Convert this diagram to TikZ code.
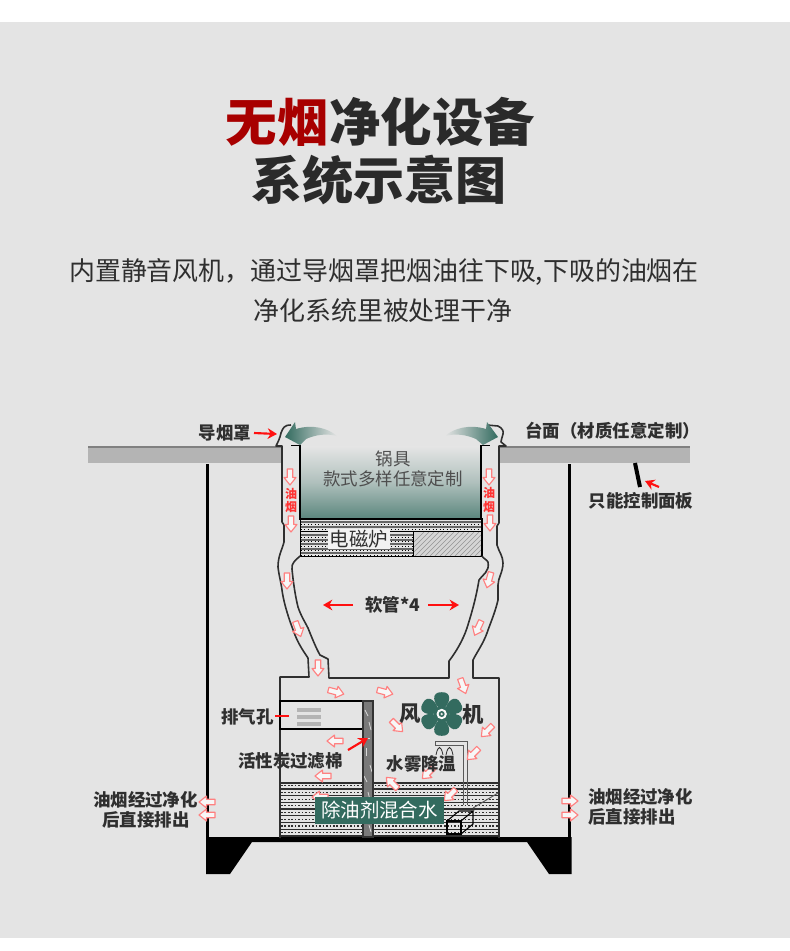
\documentclass[tikz,border=0pt]{standalone}
\usepackage{fontspec}
\setmainfont{Noto Sans CJK SC}
\usetikzlibrary{arrows.meta}
\definecolor{bgray}{HTML}{E4E4E4}
\definecolor{ink}{HTML}{2F2F2F}
\definecolor{teal}{HTML}{336B5F}
\definecolor{pinkline}{HTML}{FF8080}
\definecolor{redd}{HTML}{FF1010}
\definecolor{titlered}{HTML}{A80000}
\definecolor{slab}{HTML}{B4B4B4}
\tikzset{
 x=0.75pt,y=-0.75pt,
 txt/.style={inner sep=0pt,text=ink,align=center},
 lab/.style={txt,font=\bfseries\fontsize{13.1}{13.1}\selectfont},
 wall/.style={draw=ink,line width=1.2pt,line join=round},
 redarrow/.style={draw=redd,line width=1.6pt,-{Stealth[length=7pt,width=8pt]}},
 pics/flowarrow/.style={code={
   \draw[draw=pinkline,fill=white!70!bgray,line width=0.85pt,line join=round]
     (-8,-2.8)--(0.5,-2.8)--(0.5,-6)--(8,0)--(0.5,6)--(0.5,2.8)--(-8,2.8)--cycle;}},
 petal/.style={fill=teal,draw=none},
}
\begin{document}
\begin{tikzpicture}
\useasboundingbox (0,0) rectangle (790,951);
\fill[white] (0,0) rectangle (790,951);
\fill[bgray] (0,22) rectangle (790,938);

% titles
\node[txt,anchor=west,font=\bfseries\fontsize{38.6}{38.6}\selectfont,text=titlered] (t1a) at (225.5,122) {无烟};
\node[txt,anchor=west,font=\bfseries\fontsize{38.6}{38.6}\selectfont,text=ink!90!black] (t1b) at (t1a.east) {净化设备};
\node[txt,font=\bfseries\fontsize{38.3}{38.3}\selectfont,text=ink!90!black] (t2) at (379,180) {系统示意图};
\node[txt,font=\fontsize{19.45}{19.45}\selectfont,text=ink] (s1) at (384,272) {内置静音风机，通过导烟罩把烟油往下吸,下吸的油烟在};
\node[txt,font=\fontsize{19.45}{19.45}\selectfont,text=ink] (s2) at (383,311) {净化系统里被处理干净};

% counter
\fill[slab] (88,447) rectangle (282,463);
\fill[slab] (499,447) rectangle (690,463);
\draw[gray,line width=0.8pt] (88,447)--(282,447) (499,447)--(690,447);

% legs
\draw[black,line width=2.2pt] (207.5,464)--(207.5,838);
\draw[black,line width=2.2pt] (569.5,464)--(569.5,838);

% base
\fill[black] (206,837)--(571.5,837)--(571.5,874)--(549,874)--(527,842)--(252,842)--(230,874)--(206,874)--cycle;

% pot
\shade[top color=bgray!95!white,bottom color=teal!78!bgray,middle color=teal!30!bgray] (300,446) rectangle (481,519);
\draw[black,line width=1.2pt] (300,445)--(300,519)--(481,519)--(481,445);
\draw[black,line width=1.4pt] (291,445.5)--(300,445.5) (481,445.5)--(490,445.5);

% stove
\begin{scope}
\clip (301,520) rectangle (481,531);
\foreach \yy in {522,527}{
 \draw[gray!80!black,line width=1.5pt] (301,\yy)--(481,\yy);
 \draw[black,line width=0.6pt,dotted] (301,\yy+2.6)--(481,\yy+2.6);}
\end{scope}
\begin{scope}
\clip (301,533) rectangle (413,555);
\foreach \yy in {535,539.5,544,548.5,553}{
 \draw[gray!80!black,line width=1.5pt] (301,\yy)--(413,\yy);
 \draw[black,line width=0.6pt,dotted] (301,\yy+2.2)--(413,\yy+2.2);}
\end{scope}
\fill[bgray!85!gray] (414,532) rectangle (482,556);
\begin{scope}
\clip (414,532) rectangle (482,556);
\foreach \xx in {400,405,...,490}{\draw[gray!80!bgray,line width=0.5pt] (\xx,556)--(\xx+24,532);}
\end{scope}
\draw[black,line width=1pt] (300.5,519) rectangle (482,556.5);
\draw[black,line width=1pt] (300.5,531.5)--(482,531.5) (413.5,531.5)--(413.5,556.5);
\node[txt,fill=bgray!50!white,minimum width=47pt,minimum height=15pt,font=\fontsize{14.6}{14.6}\selectfont,text=ink] (stove) at (359,539) {电磁炉};
\node[txt,font=\fontsize{13.1}{13.1}\selectfont,text=ink!85!white] (pot1) at (393,459) {锅具};
\node[txt,font=\fontsize{13.1}{13.1}\selectfont,text=ink!85!white] (pot2) at (393,479) {款式多样任意定制};

% ducts
\draw[wall] (291,425) .. controls (284,425) and (283,428) .. (281,433) .. controls (280,438) and (278,442) .. (276,446) -- (282,446) -- (282,522) -- (284,525) -- (284,542)
 .. controls (282,550) and (278,556) .. (278,567) .. controls (279,576) and (281,582) .. (282,590)
 .. controls (284,605) and (290,622) .. (295,635) .. controls (299,645) and (304,652) .. (308,658) -- (309,677) -- (280,677) -- (280,838);
\draw[wall] (300,556) .. controls (296,560) and (291,563) .. (292,569) .. controls (293,580) and (295,595) .. (298,607)
 .. controls (301,616) and (305,622) .. (308,628) .. controls (312,638) and (316,648) .. (320,655) -- (328,659) -- (329,678) -- (449,678) -- (449,661)
 .. controls (456,652) and (463,640) .. (467,628) .. controls (472,612) and (476,598) .. (479,580) .. controls (482,575) and (490,572) .. (488,562) .. controls (487,560) and (483,558) .. (482,556);
\draw[wall] (487,425) -- (498,426) .. controls (502,428) and (504,431) .. (503,434) .. controls (502,438) and (501,440) .. (501,442) -- (506,446) -- (499,446) -- (499,523) -- (497,526) -- (497,545)
 .. controls (499,552) and (503,556) .. (503,563) .. controls (503,572) and (498,578) .. (498,585) -- (498,600)
 .. controls (495,613) and (490,624) .. (487,633) .. controls (483,644) and (477,652) .. (473,660) -- (473,678) -- (499,678) -- (499,838);

% water
\begin{scope}
\clip (281,783) rectangle (498,837);
\foreach \yy in {789,795.7,802.4,809.1,815.8,822.5,829.2,835.9}{
 \draw[ink,line width=1pt] (281,\yy)--(498,\yy);
 \draw[ink,line width=0.9pt,dash pattern=on 1.2pt off 1.4pt] (281,\yy-3.3)--(498,\yy-3.3);}
\end{scope}
\draw[ink,line width=1.1pt] (281,783)--(498,783);

% exhaust chamber
\draw[black,line width=1pt] (280,701) rectangle (363,729);
\fill[slab] (297,708) rectangle (321,712);
\fill[slab] (297,715) rectangle (321,719);
\fill[slab] (297,722) rectangle (321,726);

% filter
\fill[gray!95!black] (363,701) rectangle (373,837);
\foreach \xa/\ya/\xb/\yb in {365/710/368/716,369/722/371/730,364/738/370/738,366/748/366/756,370/765/372/772,364/776/367/782,368/792/370/800,365/812/368/818,369/825/371/832}{
 \draw[gray!30!white,line width=0.6pt] (\xa,\ya)--(\xb,\yb);}
\draw[black!80,line width=1pt] (363,701) rectangle (373,837);

% sprinkler and pump
\draw[gray!70!black,line width=0.7pt] (435,745)--(435,741)--(467,741)--(467,805) (463,745)--(463,805) (435,745)--(463,745);
\draw[ink,line width=0.6pt] (436,755)..controls (438,745) and (441,745) .. (443,755);
\draw[ink,line width=0.6pt] (446,755)..controls (448,745) and (451,745) .. (453,755);
\draw[gray!70!black,line width=0.7pt] (473,808)--(498,793);
\draw[black,line width=0.8pt] (447,821) rectangle (461,834);
\draw[black,line width=0.8pt] (447,821)--(459,811)--(473,811)--(461,821) (473,811)--(473,824)--(461,834);

% fan
\foreach \a in {90,30,-30,-90,-150,150}{
 \fill[petal,rotate around={\a:(441.7,714)}] (445,714) .. controls (452,705) and (464,703) .. (463.5,714) .. controls (464,725) and (452,723) .. (445,714) -- cycle;
}
\fill[teal] (441.7,714) circle (8);
\fill[white!80!bgray] (441.7,714) circle (5.2);
\fill[teal] (441.7,714) circle (3);
\fill[bgray] (441.7,714) circle (1.3);

% small flow arrows
\foreach \xx/\yy/\aa in {
 290/477/-90, 291/524/-90, 287/581/-90, 298/629/-70,
 489/477/-90, 490/523/-90, 489/580/-105, 478/628/-115,
 318/668/-90, 336/692/-15, 385/692/-15, 463/686/-70,
 487/731/-135, 473/754/-135, 428/773/-135, 450/795/-135,
 397/726/-45, 392/783/135, 335/741/180, 323/776/180, 320/797/180,
 207/802/180, 207/815/180, 570/801/0, 570/815/0}{
 \pic[rotate=\aa] at (\xx,\yy) {flowarrow};
}

% mixed water label
\node[txt,fill=teal,text=white,minimum width=96.8pt,minimum height=20.2pt,font=\fontsize{14.6}{14.6}\selectfont] (mix) at (379.5,810.5) {除油剂混合水};

% green curved arrows
\shade[left color=teal,middle color=teal,right color=bgray]
 (285,437)--(295,422)--(296,429) .. controls (312,424) and (328,428) .. (337,436) .. controls (326,433) and (315,435) .. (306,439)--(300,445)--cycle;
\shade[right color=teal,middle color=teal,left color=bgray]
 (498,437)--(487,422)--(486,429) .. controls (470,424) and (454,428) .. (445,436) .. controls (456,433) and (467,435) .. (476,439)--(483,445)--cycle;

% labels
\node[lab] (hood) at (225,433) {导烟罩};
\coordinate (hoodtip) at (277,434);
\draw[redarrow] (hood.east -| 254,434) -- (hoodtip);
\node[lab,anchor=west] (top) at (525,431) {台面（材质任意定制）};
\node[lab] (panel) at (641,501) {只能控制面板};
\coordinate (pa) at (635,463);
\coordinate (pb) at (640,487);
\draw[black,line width=3pt] (pa)--(pb);
\coordinate (pc) at (659,487);
\coordinate (pd) at (645,481);
\draw[redarrow] (pc)--(pd);
\node[lab] (hose) at (392.5,605) {软管*4};
\coordinate (hl) at (323,605);
\coordinate (hr) at (459,605);
\draw[redarrow] (353,605)--(hl);
\draw[redarrow] (428,605)--(hr);
\node[lab] (vent) at (247.5,717) {排气孔};
\coordinate (ventp) at (289,716);
\draw[draw=redd,line width=1.6pt] (275,716)--(ventp);
\node[lab] (carbon) at (290.5,761) {活性炭过滤棉};
\coordinate (ca) at (348,750);
\coordinate (cb) at (368,738);
\draw[redarrow] (ca)--(cb);
\node[lab,font=\bfseries\fontsize{16}{16}\selectfont] (feng) at (410,714) {风};
\node[lab,font=\bfseries\fontsize{16}{16}\selectfont] (ji) at (473,714) {机};
\node[lab] (mist) at (421.5,764) {水雾降温};
\foreach \nm/\xx/\yy/\ch in {oa/291/494/油,ob/291/507/烟,oc/489/493/油,od/489/507/烟}{
 \node[txt,text=red!80!white,font=\bfseries\fontsize{9}{9}\selectfont] (\nm) at (\xx,\yy) {\ch};
}
\node[lab] (la) at (145.5,800) {油烟经过净化};
\node[lab] (lb) at (146,820) {后直接排出};
\node[lab] (ra) at (640.5,797) {油烟经过净化};
\node[lab] (rb) at (632,817) {后直接排出};
\end{tikzpicture}
\end{document}
